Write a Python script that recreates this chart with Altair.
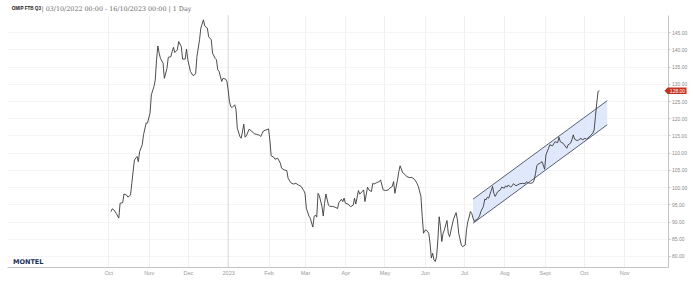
import altair as alt
import pandas as pd

# ---- price series (OMIP FTB Q3, daily) ----
dates = [
    # Oct 2022
    "2022-10-03", "2022-10-04", "2022-10-05", "2022-10-07", "2022-10-09", "2022-10-10", "2022-10-12",
    "2022-10-13", "2022-10-15", "2022-10-16", "2022-10-18", "2022-10-19", "2022-10-21", "2022-10-23",
    "2022-10-24", "2022-10-25", "2022-10-27", "2022-10-28", "2022-10-30", "2022-10-31",
    # Nov 2022
    "2022-11-02", "2022-11-03", "2022-11-05", "2022-11-06", "2022-11-07", "2022-11-08", "2022-11-09",
    "2022-11-10", "2022-11-12", "2022-11-13", "2022-11-15", "2022-11-16", "2022-11-18", "2022-11-19",
    "2022-11-20", "2022-11-21", "2022-11-23", "2022-11-24", "2022-11-26", "2022-11-27", "2022-11-29",
    "2022-11-30",
    # Dec 2022
    "2022-12-01", "2022-12-03", "2022-12-05", "2022-12-07", "2022-12-08", "2022-12-10", "2022-12-11",
    "2022-12-13", "2022-12-14", "2022-12-16", "2022-12-17", "2022-12-19", "2022-12-20", "2022-12-22",
    "2022-12-23", "2022-12-24", "2022-12-25", "2022-12-27", "2022-12-28", "2022-12-30", "2022-12-31",
    # Jan 2023
    "2023-01-01", "2023-01-02", "2023-01-03", "2023-01-04", "2023-01-06", "2023-01-07", "2023-01-08",
    "2023-01-10", "2023-01-11", "2023-01-13", "2023-01-14", "2023-01-15", "2023-01-17", "2023-01-19",
    "2023-01-21", "2023-01-23", "2023-01-25", "2023-01-26", "2023-01-28", "2023-01-30",
    # Feb 2023
    "2023-02-01", "2023-02-02", "2023-02-03", "2023-02-05", "2023-02-06", "2023-02-08", "2023-02-10",
    "2023-02-11", "2023-02-13", "2023-02-15", "2023-02-16", "2023-02-18", "2023-02-20", "2023-02-22",
    "2023-02-24", "2023-02-26", "2023-02-28",
    # Mar 2023
    "2023-03-01", "2023-03-02", "2023-03-04", "2023-03-05", "2023-03-07", "2023-03-08", "2023-03-09",
    "2023-03-10", "2023-03-11", "2023-03-12", "2023-03-14", "2023-03-15", "2023-03-16", "2023-03-17",
    "2023-03-19", "2023-03-20", "2023-03-22", "2023-03-24", "2023-03-26", "2023-03-27", "2023-03-29",
    "2023-03-30", "2023-03-31",
    # Apr 2023
    "2023-04-01", "2023-04-03", "2023-04-05", "2023-04-07", "2023-04-08", "2023-04-09", "2023-04-11",
    "2023-04-12", "2023-04-14", "2023-04-15", "2023-04-16", "2023-04-18", "2023-04-19", "2023-04-21",
    "2023-04-22", "2023-04-23", "2023-04-25", "2023-04-27", "2023-04-28", "2023-04-30",
    # May 2023
    "2023-05-02", "2023-05-04", "2023-05-05", "2023-05-07", "2023-05-08", "2023-05-09", "2023-05-11",
    "2023-05-12", "2023-05-13", "2023-05-15", "2023-05-17", "2023-05-18", "2023-05-20", "2023-05-22",
    "2023-05-24", "2023-05-26", "2023-05-27", "2023-05-29", "2023-05-30", "2023-05-31",
    # Jun 2023
    "2023-06-01", "2023-06-02", "2023-06-04", "2023-06-05", "2023-06-06", "2023-06-07", "2023-06-08",
    "2023-06-09", "2023-06-10", "2023-06-11", "2023-06-12", "2023-06-13", "2023-06-14", "2023-06-15",
    "2023-06-16", "2023-06-18", "2023-06-19", "2023-06-20", "2023-06-22", "2023-06-23", "2023-06-25",
    "2023-06-26", "2023-06-27", "2023-06-29", "2023-06-30",
    # Jul 2023
    "2023-07-02", "2023-07-03", "2023-07-04", "2023-07-05", "2023-07-06", "2023-07-07", "2023-07-08",
    "2023-07-09", "2023-07-10", "2023-07-11", "2023-07-13", "2023-07-14", "2023-07-16", "2023-07-17",
    "2023-07-18", "2023-07-19", "2023-07-20", "2023-07-22", "2023-07-23", "2023-07-24", "2023-07-25",
    "2023-07-27", "2023-07-29", "2023-07-30",
    # Aug 2023
    "2023-08-01", "2023-08-02", "2023-08-03", "2023-08-04", "2023-08-06", "2023-08-07", "2023-08-08",
    "2023-08-10", "2023-08-11", "2023-08-13", "2023-08-15", "2023-08-17", "2023-08-18", "2023-08-19",
    "2023-08-21", "2023-08-23", "2023-08-24", "2023-08-25", "2023-08-26", "2023-08-27", "2023-08-29",
    "2023-08-30",
    # Sep 2023
    "2023-09-01", "2023-09-02", "2023-09-04", "2023-09-05", "2023-09-07", "2023-09-09", "2023-09-11",
    "2023-09-12", "2023-09-13", "2023-09-15", "2023-09-16", "2023-09-18", "2023-09-19", "2023-09-21",
    "2023-09-22", "2023-09-23", "2023-09-24", "2023-09-26", "2023-09-27", "2023-09-29", "2023-09-30",
    # Oct 2023
    "2023-10-02", "2023-10-03", "2023-10-05", "2023-10-06", "2023-10-08", "2023-10-09", "2023-10-10",
    "2023-10-11", "2023-10-12", "2023-10-13",
]

prices = [
    # Oct 2022
    92.9, 93.7, 93.5, 92.4, 91.0, 95.3, 95.5, 98.0, 97.7, 97.1, 97.7, 101.1, 107.9, 108.9,
    107.4, 110.3, 112.3, 115.2, 118.6, 118.6,
    # Nov 2022
    121.5, 126.8, 129.2, 131.1, 137.0, 141.0, 138.9, 137.4, 136.0, 131.6, 134.5, 137.7, 137.9, 139.4,
    140.6, 139.1, 139.9, 142.3, 140.8, 137.2, 137.2, 140.1,
    # Dec 2022
    137.0, 133.6, 132.4, 132.9, 137.9, 142.8, 146.2, 148.6, 146.8, 146.2, 143.7, 142.8, 138.9, 137.4,
    137.0, 134.1, 133.6, 130.7, 131.6, 131.4, 130.7,
    # Jan 2023
    128.2, 124.8, 123.4, 123.1, 123.9, 122.6, 117.1, 114.7, 114.2, 118.3, 114.5, 114.9, 116.8, 116.3,
    115.5, 115.3, 115.1, 114.7, 116.3, 116.6,
    # Feb 2023
    116.9, 113.7, 109.1, 108.7, 108.1, 108.4, 107.0, 105.5, 105.0, 104.8, 102.6, 101.3, 100.9, 101.1,
    100.6, 100.2, 99.0,
    # Mar 2023
    98.2, 93.9, 91.6, 91.0, 88.4, 91.4, 91.9, 91.3, 98.2, 97.5, 94.4, 91.6, 95.3, 98.0,
    94.8, 94.4, 94.4, 94.2, 93.8, 95.5, 96.5, 95.8, 96.8,
    # Apr 2023
    95.3, 95.1, 94.3, 94.8, 96.8, 95.1, 99.0, 98.0, 98.7, 99.2, 95.8, 100.0, 99.2, 98.7,
    101.1, 100.9, 101.3, 101.6, 102.1, 99.2,
    # May 2023
    99.0, 99.2, 99.7, 100.2, 101.6, 98.2, 102.1, 104.5, 106.2, 104.2, 103.6, 103.1, 102.8, 102.8,
    102.3, 101.1, 100.2, 97.3, 91.4, 86.6,
    # Jun 2023
    87.4, 87.6, 86.6, 83.7, 79.4, 80.8, 78.9, 78.4, 79.8, 84.7, 91.4, 88.5, 84.2, 86.6,
    87.6, 90.3, 86.6, 85.6, 89.0, 90.7, 92.6, 90.5, 86.6, 83.2, 82.7,
    # Jul 2023
    83.2, 87.6, 90.0, 91.3, 92.9, 92.4, 91.0, 90.0, 90.5, 90.5, 91.6, 92.9, 94.4, 96.5,
    96.3, 97.1, 96.8, 99.0, 100.2, 98.2, 97.3, 98.7, 99.2, 100.0,
    # Aug 2023
    99.7, 100.4, 100.0, 100.6, 100.0, 100.4, 101.0, 100.4, 100.6, 101.0, 101.1, 101.0, 101.6, 101.3,
    101.1, 101.3, 102.1, 104.0, 106.2, 106.7, 107.1, 107.4,
    # Sep 2023
    105.2, 109.4, 111.3, 112.3, 112.0, 113.2, 112.9, 114.5, 113.2, 112.8, 112.3, 111.3, 112.3, 112.8,
    113.9, 115.2, 113.9, 113.5, 113.7, 114.2, 113.7,
    # Oct 2023
    114.2, 113.9, 114.5, 114.9, 115.7, 116.6, 120.5, 124.4, 127.8, 128.0,
]

# ---- trend channel (drawn annotation) ----
channel_dates = ["2023-07-08", "2023-10-19"]
channel_upper = [96.5, 125.1]
channel_lower = [89.5, 118.1]

# ---- axes ----
month_ticks = [(2022, 10), (2022, 11), (2022, 12), (2023, 1), (2023, 2), (2023, 3), (2023, 4),
               (2023, 5), (2023, 6), (2023, 7), (2023, 8), (2023, 9), (2023, 10), (2023, 11)]
y_ticks = [80, 85, 90, 95, 100, 105, 110, 115, 120, 125, 130, 135, 140, 145]
x_domain = [(2022, 7, 15, 4), (2023, 12, 4, 17)]
y_domain = [76.8, 150.0]
year_marker = ["2023-01-01"]

title_bold = "OMIP FTB Q3"
title_rest = "| 03/10/2022 00:00 - 16/10/2023 00:00 | 1 Day"
logo_text = "MONTEL"

series = pd.DataFrame({"date": dates, "price": prices})
channel = pd.DataFrame({"date": channel_dates, "upper": channel_upper, "lower": channel_lower})
last = pd.DataFrame({"date": [dates[-1]], "price": [prices[-1]]})
year_df = pd.DataFrame({"date": year_marker})

x_scale = alt.Scale(
    type="utc",
    domain=[alt.DateTime(year=y, month=m, date=d, hours=h, utc=True) for (y, m, d, h) in x_domain],
)
y_scale = alt.Scale(domain=y_domain, nice=False, zero=False)

label_expr = (
    "utcFormat(datum.value, '%m') == '01' ? utcFormat(datum.value, '%Y') : "
    "(utcFormat(datum.value, '%m') == '09' ? 'Sept' : utcFormat(datum.value, '%b'))"
)

x_axis = alt.Axis(
    values=[alt.DateTime(year=y, month=m, date=1, utc=True) for (y, m) in month_ticks],
    labelExpr=label_expr,
    title=None,
    grid=True,
    gridColor="#ececec",
    gridWidth=0.8,
    domainColor="#c4c4c4",
    domainWidth=1,
    ticks=False,
    labelFont="Liberation Sans",
    labelFontSize=5.5,
    labelColor="#9a9a9a",
    labelPadding=3,
)
y_axis = alt.Axis(
    orient="right",
    values=y_ticks,
    format=".2f",
    title=None,
    grid=True,
    gridColor="#f1f1f1",
    gridWidth=0.8,
    domainColor="#c4c4c4",
    domainWidth=1,
    tickColor="#c4c4c4",
    tickSize=2,
    labelFont="Liberation Sans",
    labelFontSize=5,
    labelColor="#8a8a8a",
    labelPadding=1.5,
)


def X(field):
    return alt.X(field, type="temporal", scale=x_scale, axis=x_axis)


def Y(field):
    return alt.Y(field, type="quantitative", scale=y_scale, axis=y_axis)


year_rule = alt.Chart(year_df).mark_rule(color="#dadada", strokeWidth=1).encode(x=X("date"))

band = alt.Chart(channel).mark_area(color="#dbe5fa", opacity=0.85).encode(
    x=X("date"), y=Y("upper"), y2="lower:Q"
)
upper_line = alt.Chart(channel).mark_line(color="#2f3a52", strokeWidth=0.8).encode(
    x=X("date"), y=Y("upper")
)
lower_line = alt.Chart(channel).mark_line(color="#2f3a52", strokeWidth=0.8).encode(
    x=X("date"), y=Y("lower")
)

price_line = alt.Chart(series).mark_line(color="#3a3a3a", strokeWidth=0.9).encode(
    x=X("date"), y=Y("price")
)

tag = alt.Chart(last).mark_point(
    shape="M -1 0 L -0.72 -0.3 L 1 -0.3 L 1 0.3 L -0.72 0.3 Z",
    filled=True,
    size=484,
    color="#c4321f",
    opacity=1,
).encode(x=alt.value(668.5), y=Y("price"))
tag_text = alt.Chart(last).mark_text(
    font="Liberation Sans", fontSize=5, color="white", align="center", baseline="middle"
).encode(
    x=alt.value(670.5),
    y=Y("price"),
    text=alt.Text("price:Q", format=".2f"),
)

title_a = alt.Chart(pd.DataFrame({"t": [title_bold]})).mark_text(
    font="Liberation Sans", fontWeight="bold", fontSize=4.6, color="#222222",
    align="left", baseline="middle",
).encode(x=alt.value(4.7), y=alt.value(-6.5), text="t:N")
title_b = alt.Chart(pd.DataFrame({"t": [title_rest]})).mark_text(
    font="DejaVu Serif", fontSize=6.4, color="#666666",
    align="left", baseline="middle",
).encode(x=alt.value(34.5), y=alt.value(-6.5), text="t:N")

logo = alt.Chart(pd.DataFrame({"t": [logo_text]})).mark_text(
    font="DejaVu Sans", fontWeight="bold", fontSize=6.5, color="#1b2f5e",
    align="left", baseline="middle",
).encode(x=alt.value(6), y=alt.value(247), text="t:N")

chart = alt.layer(
    year_rule, band, upper_line, lower_line, price_line, tag, tag_text, title_a, title_b, logo
).properties(
    width=661,
    height=252,
    autosize=alt.AutoSizeParams(type="none"),
    padding={"left": 7, "top": 15, "right": 25, "bottom": 15},
    background="white",
).configure_view(stroke=None)

chart.save("out.html", embed_options={"renderer": "svg", "actions": False})
